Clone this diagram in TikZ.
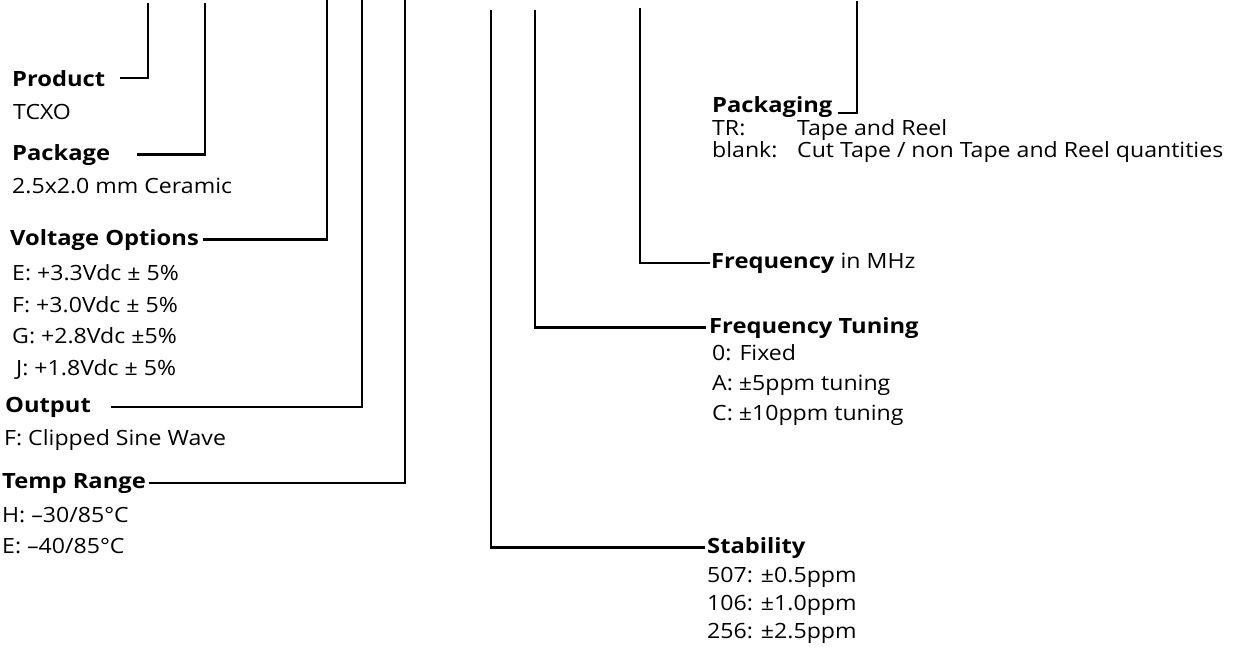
\documentclass[tikz,border=0pt]{standalone}
\usepackage{fontspec}
\setmainfont{Open Sans}[FakeStretch=1.1, BoldFeatures={FakeStretch=1.13}]
\usetikzlibrary{positioning}

\begin{document}
\begin{tikzpicture}[
  x=1pt, y=-1pt,
  head/.style={font=\fontsize{21}{25}\selectfont\bfseries, inner sep=0pt, anchor=base west},
  desc/.style={font=\fontsize{21}{#1}\selectfont, inner sep=0pt, anchor=base west, align=left},
  desc/.default=31.5,
  wire/.style={line width=2.6pt}
]
\useasboundingbox (0,0) rectangle (1251,653);

% top ends of the code lines
\coordinate (pinProd) at (148,3);
\coordinate (pinPkg) at (205,3);
\coordinate (pinVolt) at (327,0);
\coordinate (pinOut) at (362,0);
\coordinate (pinTemp) at (405,0);
\coordinate (pinStab) at (491,10);
\coordinate (pinTune) at (535,10);
\coordinate (pinFreq) at (640,8);
\coordinate (pinPack) at (857,1);

% left column (multi-line texts sit on their last baseline)
\node[head] (prod) at (12,86) {Product};
\node[desc] (prodTxt) at (13,119) {TCXO};
\node[head] (pkg) at (12,160) {Package};
\node[desc] (pkgTxt) at (12,193) {2.5x2.0 mm Ceramic};
\node[head] (volt) at (10,245) {Voltage Options};
\node[desc] (voltTxt) at (12,375) {E: +3.3Vdc ± 5\%\\F: +3.0Vdc ± 5\%\\G: +2.8Vdc ±5\%\\\hspace*{4pt}J: +1.8Vdc ± 5\%};
\node[head] (out) at (5,412) {Output};
\node[desc] (outTxt) at (4,445) {F: Clipped Sine Wave};
\node[head] (temp) at (2,488) {Temp Range};
\node[desc=31] (tempTxt) at (2,553) {H: --30/85°C\\E: --40/85°C};

% right column
\node[head] (pack) at (712,112) {Packaging};
\node[desc=21.5] (packTxt) at (712,157) {\makebox[85pt][l]{TR:}Tape and Reel\\\makebox[85pt][l]{blank:}Cut Tape / non Tape and Reel quantities};
\node[head] (freq) at (711,268) {Frequency \mdseries in MHz};
\node[head] (tune) at (709,333) {Frequency Tuning};
\node[desc=30] (tuneTxt) at (712,420) {0: Fixed\\A: ±5ppm tuning\\C: ±10ppm tuning};
\node[head] (stab) at (707,553) {Stability};
\node[desc=28] (stabTxt) at (707,638) {507: ±0.5ppm\\106: ±1.0ppm\\256: ±2.5ppm};

\draw[wire, shorten <=15pt] (prod.east) -| (pinProd);
\draw[wire, shorten <=27pt] (pkg.east) -| (pinPkg);
\draw[wire, shorten <=4pt] (volt.east) -| (pinVolt);
\draw[wire, shorten <=20pt] (out.east) -| (pinOut);
\draw[wire, shorten <=3pt] (temp.east) -| (pinTemp);
\draw[wire, shorten <=5pt] ([yshift=-1pt]pack.base east) -| (pinPack);
\draw[wire, shorten >=1pt] (pinFreq) |- (freq.west);
\draw[wire, shorten >=3pt] (pinTune) |- (tune.west);
\draw[wire, shorten >=2pt] (pinStab) |- (stab.west);
\end{tikzpicture}
\end{document}
